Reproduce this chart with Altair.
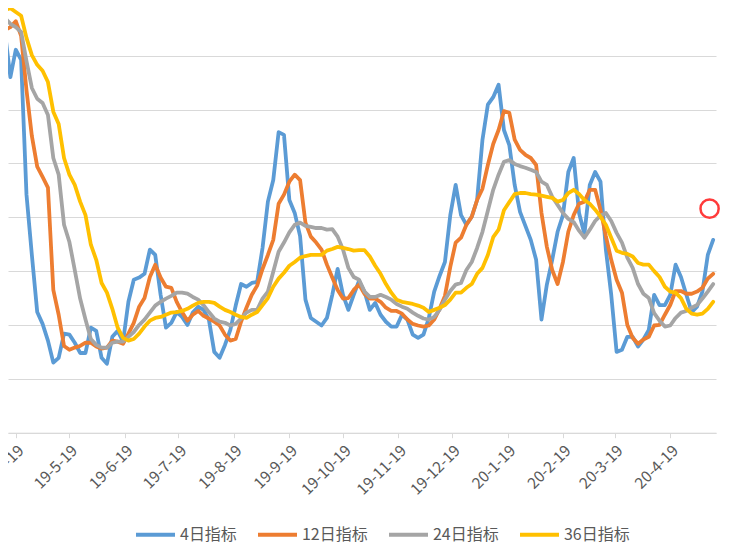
import altair as alt
import pandas as pd

# x categories: sampled dates (every 3 calendar days)
dates = pd.date_range("2019-04-10", periods=134, freq="3D").strftime("%Y-%m-%d").tolist()

series_names = ["4日指标", "12日指标", "24日指标", "36日指标"]
series_colors = ["#5B9BD5", "#ED7D31", "#A5A5A5", "#FFC000"]

blue = [81.3, 74.2, 66.0, 71.1, 69.2, 44.2, 33.0, 22.4, 20.2, 17.1,
        13.0, 13.9, 18.4, 18.2, 16.7, 14.8, 14.8, 19.5, 18.9, 13.9,
        12.8, 17.8, 18.9, 16.9, 24.3, 28.4, 28.8, 29.5, 34.0, 33.0,
        25.6, 19.5, 20.4, 22.4, 21.5, 20.0, 22.3, 23.4, 22.8, 21.0,
        15.0, 13.9, 16.3, 19.1, 23.6, 27.6, 27.1, 27.8, 28.0, 34.3,
        42.9, 46.9, 55.8, 55.3, 43.2, 40.8, 36.5, 24.7, 21.3, 20.6,
        19.9, 21.3, 25.6, 30.4, 25.6, 22.8, 25.6, 28.2, 26.2, 22.8,
        24.1, 21.9, 20.6, 19.7, 19.7, 21.9, 21.0, 18.2, 17.6, 18.2,
        21.3, 26.2, 29.1, 31.7, 40.4, 46.0, 40.4, 38.6, 40.1, 43.2,
        54.4, 60.9, 62.3, 64.6, 56.2, 53.4, 46.0, 41.0, 38.4, 35.8,
        32.1, 21.0, 27.5, 32.1, 37.3, 40.4, 48.4, 51.0, 40.8, 36.9,
        46.0, 48.4, 46.6, 34.0, 25.6, 15.0, 15.4, 17.8, 17.8, 16.0,
        17.3, 19.1, 25.6, 23.7, 23.7, 25.6, 31.2, 28.9, 25.6, 22.4,
        23.4, 26.2, 33.0, 35.8]

orange = [74.8, 74.8, 75.3, 76.4, 73.7, 63.6, 55.1, 49.4, 47.5, 45.5,
          26.5, 21.9, 16.1, 15.4, 15.8, 16.1, 16.7, 16.7, 16.0, 15.6,
          15.8, 17.1, 16.9, 16.5, 18.4, 20.4, 23.4, 25.0, 28.9, 31.2,
          28.8, 27.1, 26.9, 24.3, 22.4, 20.8, 21.9, 22.6, 21.7, 21.2,
          20.6, 19.9, 18.2, 17.1, 17.4, 20.6, 23.2, 25.6, 27.3, 30.4,
          33.0, 35.8, 42.5, 44.2, 46.6, 47.9, 46.9, 39.0, 36.4, 35.3,
          34.0, 31.2, 28.8, 26.5, 24.9, 25.0, 26.5, 27.5, 25.8, 24.9,
          24.9, 24.3, 23.2, 22.6, 22.6, 22.1, 21.0, 20.2, 19.9, 19.7,
          19.9, 21.0, 23.0, 25.4, 30.8, 35.3, 36.2, 38.6, 40.1, 43.2,
          45.3, 49.7, 53.6, 56.2, 59.7, 59.4, 54.4, 52.5, 51.6, 51.0,
          49.7, 40.8, 34.5, 30.2, 27.6, 31.7, 37.3, 40.4, 42.5, 42.9,
          45.1, 45.1, 41.4, 36.5, 32.1, 28.4, 26.0, 20.0, 17.6, 16.5,
          17.3, 17.8, 19.9, 20.0, 21.9, 23.7, 26.3, 26.3, 25.8, 25.8,
          26.2, 26.9, 28.6, 29.5]

gray = [78.5, 77.0, 75.9, 75.3, 74.4, 69.0, 64.0, 62.0, 61.2, 59.0,
        51.0, 47.9, 38.6, 35.4, 30.2, 24.9, 21.0, 17.4, 16.3, 15.8,
        15.8, 16.7, 16.9, 16.9, 17.8, 18.7, 20.0, 21.0, 22.3, 23.6,
        24.3, 24.9, 25.4, 26.0, 26.0, 25.8, 25.2, 24.7, 23.7, 22.4,
        21.2, 20.6, 20.4, 19.9, 20.2, 21.2, 22.3, 22.8, 22.8, 24.9,
        26.2, 29.9, 33.6, 35.3, 37.2, 38.6, 39.0, 38.4, 38.2, 38.0,
        38.0, 37.7, 37.8, 36.4, 34.0, 30.6, 28.9, 28.4, 26.2, 25.2,
        25.2, 25.6, 25.2, 24.7, 23.9, 23.4, 23.0, 22.3, 21.7, 21.2,
        21.0, 21.5, 22.8, 24.7, 26.3, 27.5, 27.8, 30.2, 31.7, 34.3,
        37.3, 41.2, 45.1, 47.9, 50.3, 50.6, 49.9, 49.5, 49.2, 48.8,
        48.4, 46.6, 46.0, 43.8, 42.3, 40.8, 39.7, 39.1, 37.5, 36.2,
        37.7, 39.3, 40.3, 40.8, 39.3, 37.1, 35.3, 32.5, 30.6, 27.6,
        25.8, 25.0, 22.2, 20.8, 19.7, 19.9, 21.3, 22.3, 22.6, 23.2,
        23.7, 24.9, 26.2, 27.6]

yellow = [77.9, 78.5, 78.8, 78.1, 77.4, 73.3, 70.1, 68.3, 67.2, 65.1,
          59.6, 57.3, 51.0, 47.9, 46.0, 42.9, 40.4, 34.9, 32.1, 27.8,
          26.0, 23.0, 19.5, 17.6, 17.1, 17.4, 18.4, 19.7, 20.8, 21.3,
          21.5, 21.9, 22.3, 22.4, 22.6, 23.0, 23.6, 24.1, 24.3, 24.3,
          24.1, 23.4, 22.8, 22.4, 21.9, 21.5, 21.3, 21.9, 22.4, 23.7,
          25.0, 27.1, 28.6, 29.7, 31.0, 31.7, 32.5, 32.8, 33.0, 33.0,
          33.0, 33.8, 34.1, 34.5, 34.3, 34.1, 33.8, 33.9, 33.9, 32.7,
          31.0, 29.5, 27.6, 26.0, 24.7, 24.3, 24.1, 23.9, 23.6, 23.2,
          22.4, 22.8, 23.2, 23.7, 24.7, 26.0, 26.0, 26.9, 27.6, 29.5,
          30.6, 33.0, 36.3, 37.7, 41.3, 42.8, 44.3, 44.5, 44.5, 44.3,
          44.2, 44.0, 43.8, 43.6, 42.9, 43.2, 44.5, 45.1, 44.3, 43.2,
          42.5, 41.4, 40.1, 38.6, 36.2, 33.8, 33.4, 33.2, 32.7, 31.5,
          31.2, 31.2, 30.0, 28.9, 27.1, 26.2, 26.0, 25.0, 23.0, 22.1,
          21.9, 22.1, 23.0, 24.3]

# annotation circle
marker_date = ["2020-05-11"]
marker_value = [41.6]

tick_dates = ["2019-04-19", "2019-05-19", "2019-06-19", "2019-07-19", "2019-08-19",
              "2019-09-19", "2019-10-19", "2019-11-19", "2019-12-19", "2020-01-19",
              "2020-02-19", "2020-03-19", "2020-04-19"]

all_series = [blue, orange, gray, yellow]

FONT = "Noto Sans CJK SC"
GRID = "#D9D9D9"
TEXT = "#595959"


def dt(s, hours=0):
    y, m, d = (int(p) for p in s.split("-"))
    return alt.DateTime(year=y, month=m, date=d, hours=hours, utc=True)


x_enc = alt.X(
    "date:T",
    title=None,
    scale=alt.Scale(type="utc", domain=[dt("2019-04-14", 16), dt("2020-05-14", 14)]),
    axis=alt.Axis(
        values=[dt(s) for s in tick_dates],
        labelExpr="utcFormat(datum.value, '%y-%-m-%d')",
        labelAngle=-45,
        labelFont=FONT,
        labelFontSize=15.5,
        labelColor=TEXT,
        labelPadding=5,
        labelOverlap=False,
        labelFlush=False,
        grid=False,
        domainColor=GRID,
        domainWidth=1,
        tickColor=GRID,
        tickSize=5,
    ),
)

y_enc = alt.Y(
    "value:Q",
    title=None,
    scale=alt.Scale(domain=[0, 78.85], nice=False, zero=False),
    axis=alt.Axis(
        values=[0, 10, 20, 30, 40, 50, 60, 70],
        labels=False,
        ticks=False,
        domain=False,
        grid=True,
        gridColor=GRID,
        gridWidth=1,
    ),
)

color_enc = alt.Color(
    "series:N",
    scale=alt.Scale(domain=series_names, range=series_colors),
    legend=alt.Legend(
        title=None,
        orient="none",
        legendX=126,
        legendY=505,
        direction="horizontal",
        symbolType="stroke",
        symbolSize=1521,
        symbolStrokeWidth=4,
        labelFont=FONT,
        labelFontSize=16,
        labelColor=TEXT,
        labelOffset=3,
        columnPadding=13,
    ),
)

layers = []
for name, vals in zip(series_names, all_series):
    df = pd.DataFrame({"date": dates, "value": vals, "series": name})
    layers.append(
        alt.Chart(df)
        .mark_line(strokeWidth=3.8, clip=True, strokeJoin="round", strokeCap="round")
        .encode(x=x_enc, y=y_enc, color=color_enc)
    )

marker_df = pd.DataFrame({"date": marker_date, "value": marker_value})
marker = (
    alt.Chart(marker_df)
    .mark_point(shape="circle", size=330, filled=False, strokeWidth=2.5)
    .encode(x=x_enc, y=y_enc, stroke=alt.value("#FF3B3B"), opacity=alt.value(1))
)

chart = (
    alt.layer(*layers, marker)
    .properties(
        width=708,
        height=424.7,
        autosize=alt.AutoSizeParams(type="none"),
        padding={"left": 0, "top": 0, "right": 5, "bottom": 110},
        background="white",
    )
    .configure_view(stroke=None)
)

chart.save("out.html", embed_options={"renderer": "svg", "actions": False})
